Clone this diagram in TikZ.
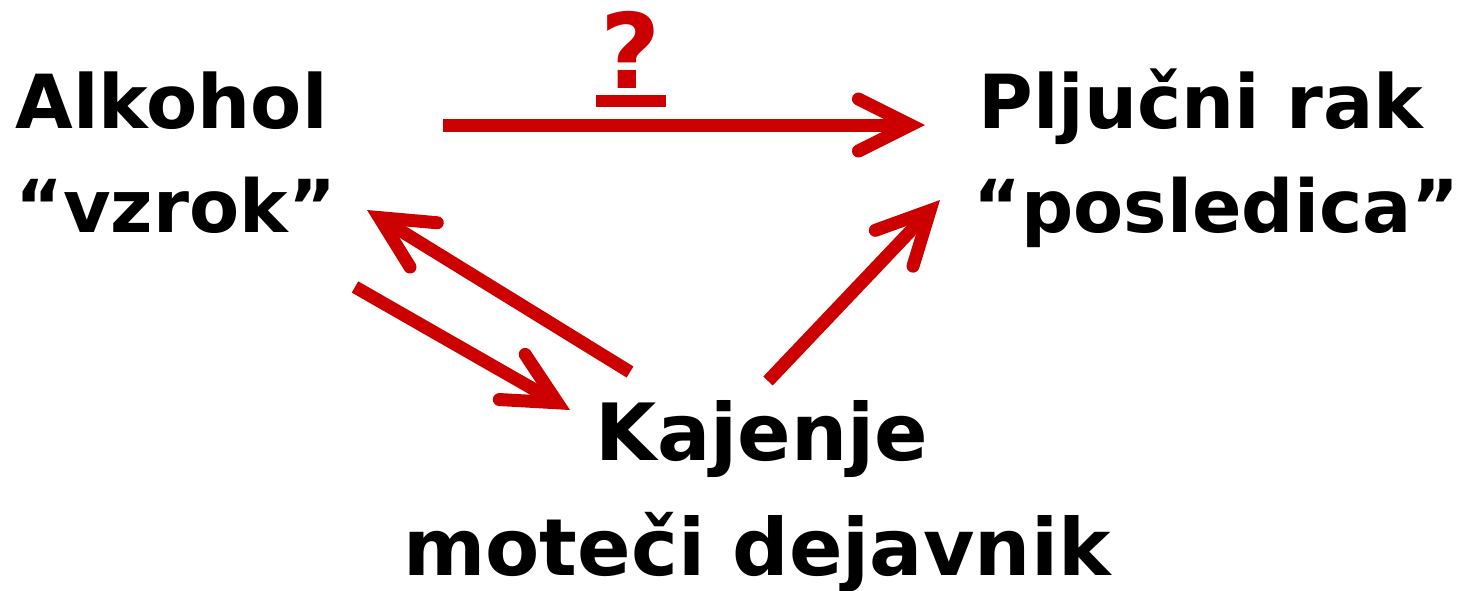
\documentclass[tikz,border=0pt]{standalone}
\usepackage{fontspec}
\setmainfont{DejaVu Sans}
\usepackage{tikz}
\usetikzlibrary{arrows.meta}

\definecolor{arrred}{RGB}{204,0,0}

\begin{document}
\begin{tikzpicture}[x=0.5pt, y=-0.5pt,
		lbl/.style={inner sep=0pt, font=\fontsize{36.5}{44}\selectfont\bfseries},
		big/.style={inner sep=0pt, font=\fontsize{39.5}{47}\selectfont\bfseries},
		arr/.style={draw=arrred, line width=6.5pt,
			-{Straight Barb[length=26pt, width=26pt, line cap=round, line join=miter]}}]
		\useasboundingbox (0,0) rectangle (1462,590);

		\node[lbl, font=\fontsize{37.3}{44}\selectfont\bfseries, anchor=base west] (alk) at (15,128) {Alkohol};
		\node[lbl, anchor=base west] (vzr) at (15,232) {“vzrok”};
		\node[lbl, font=\fontsize{37.3}{44}\selectfont\bfseries, anchor=base west] (plj) at (978,128) {Pljučni rak};
		\node[lbl, anchor=base west] (pos) at (973,232) {“posledica”};
		\node[big, anchor=base] (kaj) at (762,460) {Kajenje};
		\node[big, anchor=base] (mot) at (757,575) {moteči dejavnik};
		\node[inner sep=0pt, anchor=base, text=arrred, font=\fontsize{52}{60}\selectfont\bfseries] (q) at (631,88) {?};

		% arrow ends
		\coordinate (a1) at (443,125);
		\coordinate (p1) at (925,125);
		\coordinate (a2) at (355,287);
		\coordinate (k2) at (570,410);
		\coordinate (k3) at (630,372);
		\coordinate (a3) at (367,210);
		\coordinate (k4) at (768,381);
		\coordinate (p4) at (940,200);

		\draw[arr] (a1) -- (p1);
		\draw[arr] (a2) -- (k2);
		\draw[arr] (k3) -- (a3);
		\draw[arr] (k4) -- (p4);
		\draw[arrred, line width=6pt] ([xshift=-2pt, yshift=-6.5pt]q.base west) -- ([xshift=2pt, yshift=-6.5pt]q.base east);
	\end{tikzpicture}
\end{document}
